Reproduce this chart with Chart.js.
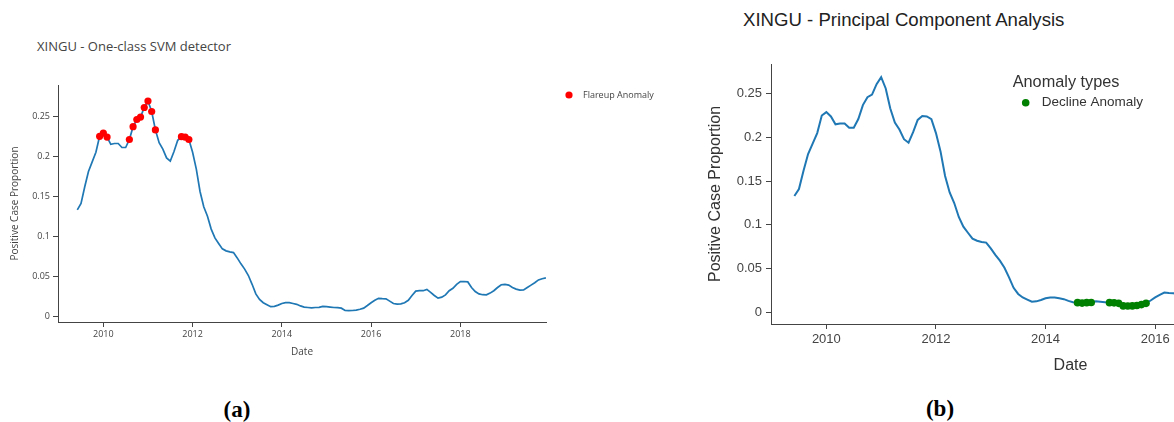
<!DOCTYPE html>
<html>
<head>
<meta charset="utf-8">
<script src="https://cdn.jsdelivr.net/npm/chart.js@4.4.1/dist/chart.umd.min.js"></script>
<style>
  body { margin: 0; width: 1174px; height: 422px; overflow: hidden; background: #fff; position: relative; }
  canvas { position: absolute; top: 0; }
  #svm { left: 0; }
  #pca { left: 690px; }
  .title { position: absolute; white-space: nowrap; }
  #titleA { left: 37px; top: 37px; font: 13px/18px "Open Sans", sans-serif; color: #444; }
  #titleB { left: 743px; top: 8px; font: 18.6px/24px "Liberation Sans", Arial, sans-serif; color: #222; }
  .cap { position: absolute; width: 80px; text-align: center; font: bold 23px/28px "Liberation Serif", "DejaVu Serif", serif; color: #000; }
</style>
</head>
<body>
<div class="title" id="titleA">XINGU - One-class SVM detector</div>
<div class="title" id="titleB">XINGU - Principal Component Analysis</div>
<canvas id="svm" width="680" height="375"></canvas>
<canvas id="pca" width="720" height="390"></canvas>
<div class="cap" style="left:197px; top:396px">(a)</div>
<div class="cap" style="left:900px; top:395px">(b)</div>

<script>
// monthly positive case proportion for XINGU, first sample June 2009
const startYear = 2009;
const startMonth = 6;
const proportion = [
  0.133, 0.141, 0.162, 0.181, 0.193, 0.205, 0.225,                 // 2009
  0.229, 0.224, 0.215, 0.216, 0.216, 0.211, 0.211, 0.221, 0.237, 0.246, 0.249, 0.261, // 2010
  0.269, 0.256, 0.233, 0.217, 0.209, 0.198, 0.194, 0.206, 0.220, 0.2245, 0.224, 0.221, // 2011
  0.205, 0.184, 0.156, 0.137, 0.125, 0.109, 0.098, 0.091, 0.0843, 0.0818, 0.0805, 0.0797, // 2012
  0.073, 0.0656, 0.059, 0.051, 0.040, 0.028, 0.021, 0.017, 0.0145, 0.0121, 0.0125, 0.014, // 2013
  0.016, 0.017, 0.017, 0.016, 0.015, 0.013, 0.0115, 0.011, 0.0105, 0.011, 0.0112, 0.0125, // 2014
  0.012, 0.0115, 0.011, 0.0108, 0.0102, 0.0073, 0.0072, 0.0073, 0.0078, 0.0088, 0.0102, 0.0135, // 2015
  0.017, 0.020, 0.0225, 0.022, 0.0218, 0.019, 0.016, 0.0152, 0.0155, 0.017, 0.020, 0.026, // 2016
  0.0315, 0.032, 0.032, 0.0337, 0.030, 0.026, 0.0228, 0.024, 0.0268, 0.032, 0.035, 0.040, // 2017
  0.0433, 0.0435, 0.043, 0.036, 0.031, 0.028, 0.027, 0.0268, 0.029, 0.032, 0.036, 0.0395, // 2018
  0.040, 0.039, 0.036, 0.034, 0.0327, 0.033, 0.036, 0.039, 0.042, 0.0455, 0.047, 0.048  // 2019
];
// months flagged by each detector (index into proportion)
const flareupIdx = [6, 7, 8, 14, 15, 16, 17, 18, 19, 20, 21, 28, 29, 30];
const declineIdx = [62, 63, 64, 65, 69, 70, 71, 72, 73, 74, 75, 76, 77];

const yTicks = [0, 0.05, 0.1, 0.15, 0.2, 0.25];
const xTicks = [2010, 2012, 2014, 2016, 2018];

const dates = proportion.map((_, i) => startYear + (startMonth - 1 + i) / 12);
const series = proportion.map((v, i) => ({ x: dates[i], y: v }));
const pick = idx => idx.map(i => ({ x: dates[i], y: proportion[i] }));

const fmtTick = v => String(Number(v.toFixed(2)));

// single-entry legend drawn from the anomaly dataset (first dataset)
const anomalyLegend = {
  id: 'anomalyLegend',
  afterDraw(chart, args, opts) {
    const ctx = chart.ctx;
    const ds = chart.data.datasets[0];
    ctx.save();
    ctx.textBaseline = 'middle';
    ctx.textAlign = 'left';
    ctx.fillStyle = opts.color;
    if (opts.heading) {
      ctx.font = opts.headingFont;
      ctx.fillText(opts.heading, opts.headingX, opts.headingY);
    }
    ctx.beginPath();
    ctx.arc(opts.x, opts.y, opts.r, 0, Math.PI * 2);
    ctx.fillStyle = ds.pointBackgroundColor;
    ctx.fill();
    ctx.font = opts.font;
    ctx.fillStyle = opts.color;
    ctx.fillText(ds.label, opts.textX, opts.y);
    ctx.restore();
  }
};

function makeChart(id, cfg) {
  const font = { family: cfg.family, size: cfg.tickSize };
  return new Chart(document.getElementById(id), {
    type: 'line',
    data: {
      datasets: [
        {
          label: cfg.anomalyLabel,
          data: pick(cfg.anomalies),
          showLine: false,
          pointRadius: cfg.dotRadius,
          pointBorderWidth: 0,
          pointBackgroundColor: cfg.dotColor,
          order: 1
        },
        {
          label: 'Positive Case Proportion',
          data: series,
          borderColor: '#1f77b4',
          borderWidth: cfg.lineWidth,
          pointRadius: 0,
          tension: 0,
          order: 2
        }
      ]
    },
    options: {
      responsive: false,
      animation: false,
      events: [],
      layout: { padding: { top: cfg.top, right: cfg.right, left: 0, bottom: 0 } },
      plugins: {
        legend: { display: false },
        tooltip: { enabled: false },
        anomalyLegend: cfg.legend
      },
      scales: {
        x: {
          type: 'linear',
          min: cfg.xMin,
          max: cfg.xMax,
          afterBuildTicks: s => { s.ticks = xTicks.map(v => ({ value: v })); },
          afterFit: s => { s.height = cfg.xHeight; },
          grid: { drawOnChartArea: false, tickLength: 5, tickColor: '#444' },
          border: { color: '#444', width: 1 },
          ticks: { autoSkip: false, maxRotation: 0, padding: cfg.xPad, color: '#444', font, callback: v => String(v) },
          title: { display: true, text: 'Date', color: cfg.titleColor, font: { family: cfg.family, size: cfg.axisTitleSize }, padding: { top: 0, bottom: cfg.xTitlePad } }
        },
        y: {
          min: cfg.yMin,
          max: cfg.yMax,
          afterBuildTicks: s => { s.ticks = yTicks.map(v => ({ value: v })); },
          afterFit: s => { s.width = cfg.yWidth; },
          grid: { drawOnChartArea: false, tickLength: 5, tickColor: '#444' },
          border: { color: '#444', width: 1 },
          ticks: { padding: cfg.yPad, color: '#444', font, callback: fmtTick },
          title: { display: true, text: 'Positive Case Proportion', color: cfg.titleColor, font: { family: cfg.family, size: cfg.axisTitleSize }, padding: { top: cfg.yTitlePad, bottom: 0 } }
        }
      }
    },
    plugins: [anomalyLegend]
  });
}

makeChart('svm', {
  family: '"Open Sans", sans-serif',
  tickSize: 9,
  axisTitleSize: 10,
  titleColor: '#444',
  anomalyLabel: 'Flareup Anomaly',
  anomalies: flareupIdx,
  dotColor: '#ff0000',
  dotRadius: 3.6,
  lineWidth: 1.7,
  top: 85,
  right: 134,
  xMin: 2008.984,
  xMax: 2019.919,
  yMin: -0.0071,
  yMax: 0.2891,
  xHeight: 53,
  yWidth: 58,
  xPad: 2,
  yPad: 3,
  xTitlePad: 17,
  yTitlePad: 9,
  legend: { x: 569, y: 95, r: 3.6, textX: 583, font: '9px "Open Sans", sans-serif', color: '#444' }
});

makeChart('pca', {
  family: '"Liberation Sans", Arial, sans-serif',
  tickSize: 13,
  axisTitleSize: 16,
  titleColor: '#333',
  anomalyLabel: 'Decline Anomaly',
  anomalies: declineIdx,
  dotColor: '#008000',
  dotRadius: 3.8,
  lineWidth: 2,
  top: 64,
  right: 40,
  xMin: 2008.99,
  xMax: 2019.92,
  yMin: -0.0134,
  yMax: 0.284,
  xHeight: 66,
  yWidth: 81,
  xPad: 3,
  yPad: 4,
  xTitlePad: 15,
  yTitlePad: 16,
  legend: {
    heading: 'Anomaly types', headingX: 322.7, headingY: 82.7,
    headingFont: '16.3px "Liberation Sans", Arial, sans-serif',
    x: 335.7, y: 102.7, r: 3.8, textX: 351.7,
    font: '13.5px "Liberation Sans", Arial, sans-serif', color: '#333'
  }
});
</script>
</body>
</html>
